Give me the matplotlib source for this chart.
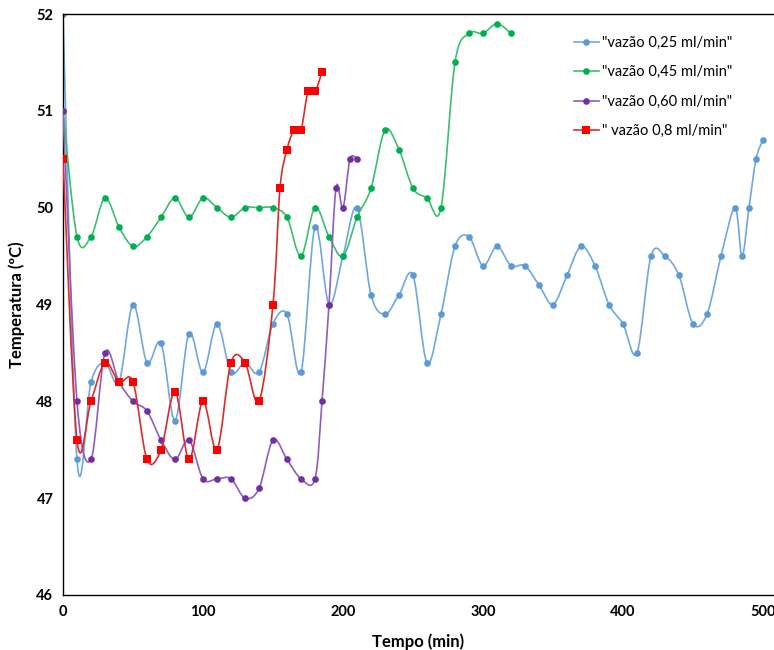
import matplotlib
matplotlib.use("Agg")
import matplotlib.pyplot as plt
from matplotlib.path import Path
from matplotlib.patches import PathPatch
from matplotlib.lines import Line2D

plt.rcParams['font.family'] = ['Lato', 'DejaVu Sans']

# vazão 0,25 ml/min
t_025 = [0, 10, 20, 30, 40, 50, 60, 70, 80, 90, 100, 110, 120, 130, 140, 150, 160, 170,
         180, 190, 200, 210, 220, 230, 240, 250, 260, 270, 280, 290, 300, 310, 320, 330,
         340, 350, 360, 370, 380, 390, 400, 410, 420, 430, 440, 450, 460, 470, 480, 485,
         490, 495, 500]
T_025 = [52.0, 47.4, 48.2, 48.4, 48.2, 49.0, 48.4, 48.6, 47.8, 48.7, 48.3, 48.8, 48.3, 48.4,
         48.3, 48.8, 48.9, 48.3, 49.8, 49.0, 49.5, 50.0, 49.1, 48.9, 49.1, 49.3, 48.4, 48.9,
         49.6, 49.7, 49.4, 49.6, 49.4, 49.4, 49.2, 49.0, 49.3, 49.6, 49.4, 49.0, 48.8, 48.5,
         49.5, 49.5, 49.3, 48.8, 48.9, 49.5, 50.0, 49.5, 50.0, 50.5, 50.7]

# vazão 0,45 ml/min
t_045 = [0, 10, 20, 30, 40, 50, 60, 70, 80, 90, 100, 110, 120, 130, 140, 150, 160, 170,
         180, 190, 200, 210, 220, 230, 240, 250, 260, 270, 280, 290, 300, 310, 320]
T_045 = [51.0, 49.7, 49.7, 50.1, 49.8, 49.6, 49.7, 49.9, 50.1, 49.9, 50.1, 50.0, 49.9, 50.0,
         50.0, 50.0, 49.9, 49.5, 50.0, 49.7, 49.5, 49.9, 50.2, 50.8, 50.6, 50.2, 50.1, 50.0,
         51.5, 51.8, 51.8, 51.9, 51.8]

# vazão 0,60 ml/min
t_060 = [0, 10, 20, 30, 40, 50, 60, 70, 80, 90, 100, 110, 120, 130, 140, 150, 160, 170,
         180, 185, 190, 195, 200, 205, 210]
T_060 = [51.0, 48.0, 47.4, 48.5, 48.2, 48.0, 47.9, 47.6, 47.4, 47.6, 47.2, 47.2, 47.2, 47.0,
         47.1, 47.6, 47.4, 47.2, 47.2, 48.0, 49.0, 50.2, 50.0, 50.5, 50.5]

# vazão 0,8 ml/min
t_08 = [0, 10, 20, 30, 40, 50, 60, 70, 80, 90, 100, 110, 120, 130, 140, 150, 155, 160,
        165, 170, 175, 180, 185]
T_08 = [50.5, 47.6, 48.0, 48.4, 48.2, 48.2, 47.4, 47.5, 48.1, 47.4, 48.0, 47.5, 48.4, 48.4,
        48.0, 49.0, 50.2, 50.6, 50.8, 50.8, 51.2, 51.2, 51.4]

labels = ['"vazão 0,25 ml/min"', '"vazão 0,45 ml/min"', '"vazão 0,60 ml/min"', '" vazão 0,8 ml/min"']
x_ticks = [0, 100, 200, 300, 400, 500, 600]
y_ticks = [46, 47, 48, 49, 50, 51, 52]


def smooth_path(xs, ys):
    # Excel-like smoothed line: cubic bezier through every point (Catmull-Rom)
    pts = list(zip(xs, ys))
    n = len(pts)
    verts = [pts[0]]
    codes = [Path.MOVETO]
    for i in range(n - 1):
        p0 = pts[i - 1] if i > 0 else pts[i]
        p1 = pts[i]
        p2 = pts[i + 1]
        p3 = pts[i + 2] if i + 2 < n else pts[i + 1]
        c1 = (p1[0] + (p2[0] - p0[0]) / 6, p1[1] + (p2[1] - p0[1]) / 6)
        c2 = (p2[0] - (p3[0] - p1[0]) / 6, p2[1] - (p3[1] - p1[1]) / 6)
        verts += [c1, c2, p2]
        codes += [Path.CURVE4] * 3
    return Path(verts, codes)


fig = plt.figure(figsize=(7.74, 6.5), dpi=100)
ax = fig.add_axes([63 / 774, 55 / 650, 840 / 774, 581 / 650])

series = [
    (t_025, T_025, '#6FA8DC', '#5B9BD5', 'o', 4.8),
    (t_045, T_045, '#3DBE6E', '#00B050', 'o', 4.8),
    (t_060, T_060, '#8F5CC0', '#7030A0', 'o', 4.8),
    (t_08, T_08, '#DD2A2A', '#FF0000', 's', 5.2),
]

handles = []
for k, (xs, ys, lc, mc, mk, ms) in enumerate(series):
    patch = PathPatch(smooth_path(xs, ys), facecolor='none', edgecolor=lc, lw=1.2,
                      transform=ax.transData, zorder=2 + k)
    ax.add_patch(patch)
    ax.plot(xs, ys, linestyle='none', marker=mk, markersize=ms, color=mc,
            markeredgewidth=0, zorder=2.5 + k)
    handles.append(Line2D([], [], color=lc, lw=1.2, marker=mk, markersize=ms,
                          markerfacecolor=mc, markeredgewidth=0))

ax.set_xlim(0, 600)
ax.set_ylim(46, 52)
ax.set_xticks(x_ticks)
ax.set_yticks(y_ticks)
ax.tick_params(length=0, labelsize=10.5, pad=7)
for lab in ax.get_xticklabels() + ax.get_yticklabels():
    lab.set_fontweight('bold')

for s in ['left', 'top', 'bottom']:
    ax.spines[s].set_color('black')
    ax.spines[s].set_linewidth(1.0)
ax.spines['right'].set_visible(False)

fig.text(418 / 774, 1 - 642 / 650, 'Tempo (min)', ha='center', va='center',
         fontsize=12, fontweight='bold')
fig.text(17 / 774, 1 - 305 / 650, 'Temperatura (ºC)', ha='center', va='center',
         rotation=90, fontsize=12, fontweight='bold')

fig.legend(handles, labels, loc='upper left', bbox_to_anchor=(574 / 774, 1 - 36 / 650),
           frameon=False, prop={'size': 10.5},
           handlelength=1.7, handletextpad=0.25,
           labelspacing=1.05, borderpad=0, borderaxespad=0)

fig.savefig('out.png', dpi=100)
